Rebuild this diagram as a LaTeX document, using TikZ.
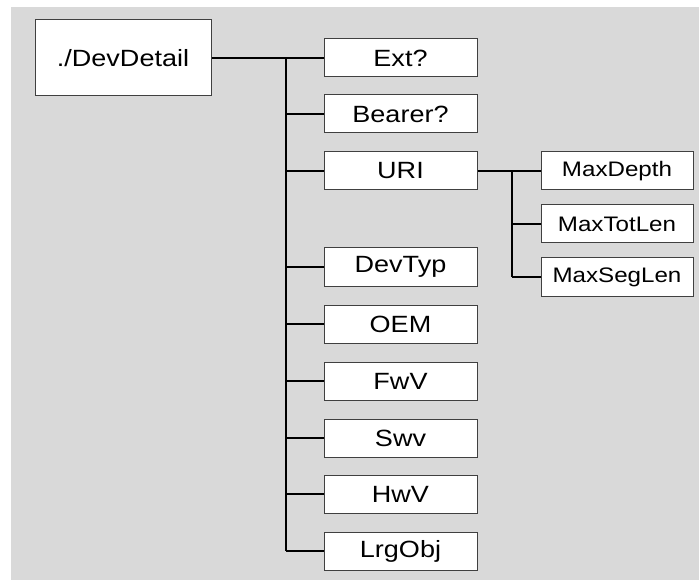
\documentclass[tikz,border=0pt]{standalone}
\usepackage{fontspec}
\setmainfont{Liberation Sans}[FakeStretch=1.15]
\definecolor{bggray}{HTML}{D9D9D9}
\definecolor{boxline}{HTML}{404040}
\begin{document}
\begin{tikzpicture}[x=1pt,y=-1pt,
  box/.style={draw=boxline,fill=white,line width=1pt,inner sep=0pt,
    minimum width=153pt,minimum height=38pt,font=\fontsize{23.5}{26}\selectfont},
  subbox/.style={box,minimum width=152pt,font=\fontsize{21}{24}\selectfont},
  rootbox/.style={box,minimum width=176pt,minimum height=76pt,font=\fontsize{23.5}{27}\selectfont},
  conn/.style={draw=black,line width=1.4pt}]
\useasboundingbox (0,0) rectangle (699,580);
\fill[bggray] (11,7) rectangle (699,580);
\node[rootbox] (root) at (123,58) {./DevDetail};
\node[box] (ext) at (400.5,58) {Ext?};
\node[box] (bearer) at (400.5,114) {Bearer?};
\node[box] (uri) at (400.5,171) {URI};
\node[box] (devtyp) at (400.5,267) {DevTyp};
\node[box] (oem) at (400.5,324) {OEM};
\node[box] (fwv) at (400.5,381) {FwV};
\node[box] (swv) at (400.5,438) {Swv};
\node[box] (hwv) at (400.5,494) {HwV};
\node[box] (lrg) at (400.5,551) {LrgObj};
\node[subbox] (maxd) at (617,171) {MaxDepth};
\node[subbox] (maxt) at (617,224) {MaxTotLen};
\node[subbox] (maxs) at (617,277) {MaxSegLen};
\coordinate (trunk) at (286,0);
\coordinate (subtrunk) at (512,0);
% main trunk
\draw[conn] (root.east) -- (ext.west |- root.east);
\draw[conn] (trunk |- root.east) -- (trunk |- lrg.west);
\foreach \n in {bearer,uri,devtyp,oem,fwv,swv,hwv,lrg}
  \draw[conn] (trunk |- \n.west) -- (\n.west);
% sub trunk
\draw[conn] (uri.east) -- (maxd.west);
\draw[conn] (subtrunk |- uri.east) -- (subtrunk |- maxs.west);
\foreach \n in {maxt,maxs}
  \draw[conn] (subtrunk |- \n.west) -- (\n.west);
\end{tikzpicture}
\end{document}
